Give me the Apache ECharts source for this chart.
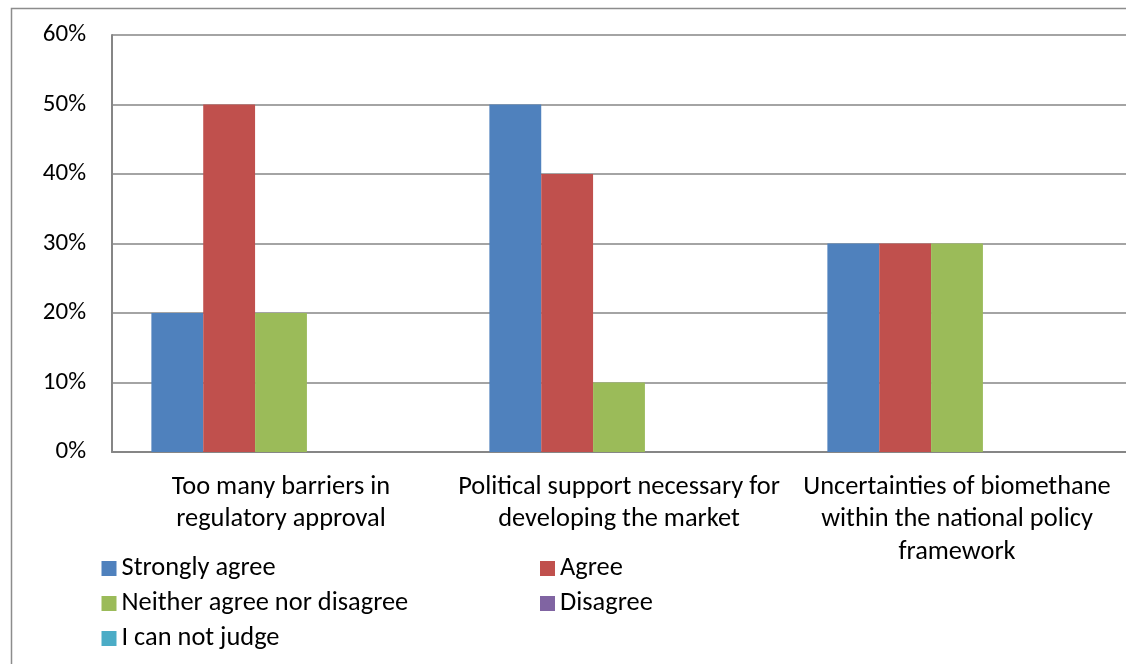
<!DOCTYPE html>
<html>
<head>
<meta charset="utf-8">
<script src="https://cdn.jsdelivr.net/npm/echarts@6/dist/echarts.min.js"></script>
<style>
  html, body { margin: 0; padding: 0; background: #fff; }
  #chart { width: 1126px; height: 664px; }
</style>
</head>
<body>
<div id="chart"></div>
<script>
// Survey statements shown along the category axis
const categories = [
  'Too many barriers in\nregulatory approval',
  'Political support necessary for\ndeveloping the market',
  'Uncertainties of biomethane\nwithin the national policy\nframework'
];

// Share of respondents (%) per answer option
const stronglyAgree = [20, 50, 30];
const agree = [50, 40, 30];
const neither = [20, 10, 30];
const disagree = [0, 0, 0];
const cannotJudge = [0, 0, 0];

const seriesNames = ['Strongly agree', 'Agree', 'Neither agree nor disagree', 'Disagree', 'I can not judge'];
const seriesData = [stronglyAgree, agree, neither, disagree, cannotJudge];
const seriesColors = ['#4F81BD', '#C0504D', '#9BBB59', '#8064A2', '#4BACC6'];

const yTicks = [0, 10, 20, 30, 40, 50, 60];

const FONT = "Carlito, Calibri, 'Liberation Sans', sans-serif";

const chart = echarts.init(document.getElementById('chart'), null, { renderer: 'canvas' });

const legendText = { fontFamily: FONT, fontSize: 26.4, lineHeight: 27, color: '#000' };

const legendBase = {
  orient: 'vertical',
  top: 550,
  itemWidth: 15,
  itemHeight: 15,
  itemGap: 8,
  itemStyle: { borderWidth: 0 },
  icon: 'rect',
  textStyle: legendText
};

chart.setOption({
  animation: false,
  backgroundColor: '#fff',
  textStyle: { fontFamily: FONT },
  graphic: [{
    type: 'rect',
    shape: { x: 11.5, y: 8.5, width: 1300, height: 800 },
    style: { fill: 'none', stroke: '#8c8c8c', lineWidth: 1.5 },
    silent: true
  }],
  grid: { left: 112, right: -3, top: 35, bottom: 212, containLabel: false },
  legend: [
    Object.assign({}, legendBase, { left: 96.5, data: [seriesNames[0], seriesNames[2], seriesNames[4]] }),
    Object.assign({}, legendBase, { left: 535, data: [seriesNames[1], seriesNames[3]] })
  ],
  xAxis: {
    type: 'category',
    data: categories,
    axisLine: { show: true, lineStyle: { color: '#868686', width: 2 } },
    axisTick: { show: false },
    axisLabel: {
      interval: 0,
      margin: 19,
      color: '#000',
      fontFamily: FONT,
      fontSize: 26.4,
      lineHeight: 32.5,
      align: 'center',
      verticalAlign: 'top'
    }
  },
  yAxis: {
    type: 'value',
    min: yTicks[0],
    max: yTicks[yTicks.length - 1],
    interval: 10,
    axisLine: { show: true, lineStyle: { color: '#868686', width: 2 } },
    axisTick: { show: false },
    axisLabel: {
      margin: 26,
      color: '#000',
      fontFamily: FONT,
      fontSize: 25,
      formatter: v => v + '%'
    },
    splitLine: { show: true, lineStyle: { color: '#868686', width: 1.5 } }
  },
  series: seriesNames.map((name, i) => ({
    name,
    type: 'bar',
    data: seriesData[i],
    barGap: '0%',
    barCategoryGap: '23.3%',
    itemStyle: { color: seriesColors[i] }
  }))
});
</script>
</body>
</html>
